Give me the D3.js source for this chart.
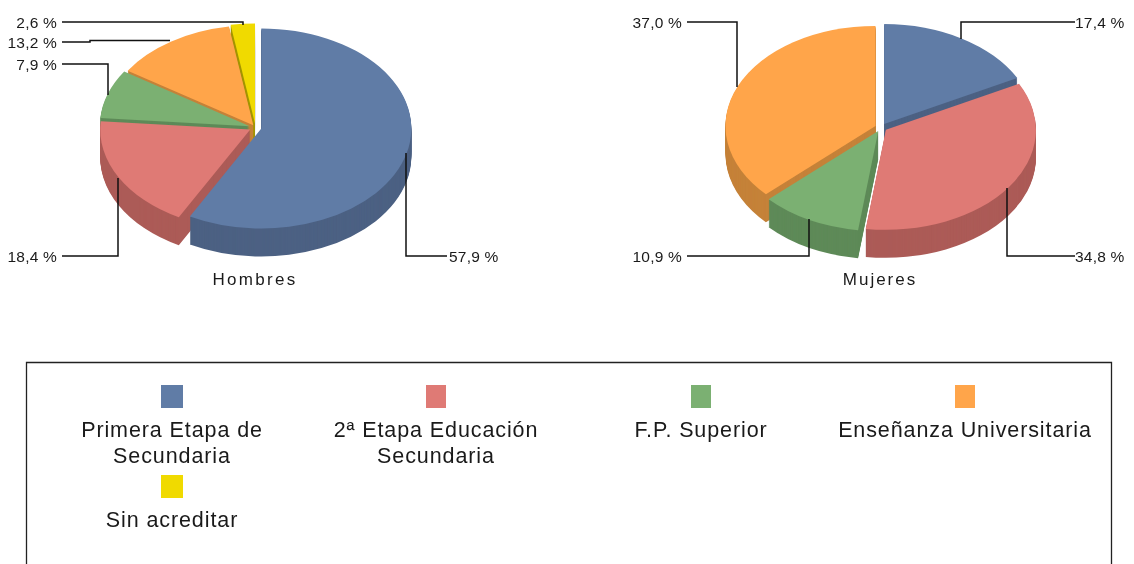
<!DOCTYPE html>
<html><head><meta charset="utf-8">
<style>html,body{margin:0;padding:0;background:#fff;overflow:hidden}svg{display:block;filter:blur(0.45px)}text{font-family:"Liberation Sans",Arial,sans-serif;fill:#1a1a1a}</style>
<script src="https://cdnjs.cloudflare.com/ajax/libs/d3/7.9.0/d3.min.js"></script>
</head><body><svg id="c" width="1134" height="564"></svg>
<script>
const categories = ["Primera Etapa de Secundaria","2ª Etapa Educación Secundaria","F.P. Superior","Enseñanza Universitaria","Sin acreditar"];
const hombresValues = [57.9,18.4,7.9,13.2,2.6];
const mujeresValues = [17.4,34.8,10.9,37.0,0];
const hombresLabels = ["57,9 %","18,4 %","7,9 %","13,2 %","2,6 %"];
const mujeresLabels = ["17,4 %","34,8 %","10,9 %","37,0 %",""];
const topColors = ["#607ca6","#df7a75","#7bb072","#ffa54a","#f0da00"];
const wallColors = ["#4c6183","#ac5b57","#5e8a58","#c58239","#a39400"];

const svg = d3.select("#c");
const RX = 150, RY = 100, DEPTH = 28, EXPLODE = 6;

function drawPie(values, cx, cy, order, explode){
  const pie = d3.pie().sort(null).value(d=>d)(values);
  const arc = d3.arc().innerRadius(0).outerRadius(RX);
  const g = svg.append("g");
  order.forEach(i=>{
    const s = pie[i];
    if(!(s.endAngle - s.startAngle > 0)) return;
    const mid = (s.startAngle+s.endAngle)/2;
    const x = cx + explode[i]*Math.sin(mid);
    const y = cy - explode[i]*(RY/RX)*Math.cos(mid);
    const d = arc(s);
    d3.range(DEPTH,0,-1).forEach(k=>{
      g.append("path").attr("d",d).attr("fill",wallColors[i])
       .attr("transform",`translate(${x},${y+k}) scale(1,${RY/RX})`);
    });
    g.append("path").attr("d",d).attr("fill",topColors[i])
     .attr("transform",`translate(${x},${y}) scale(1,${RY/RX})`);
  });
}
drawPie(hombresValues, 255.5, 127.5, [4,3,2,1,0], [EXPLODE,EXPLODE,EXPLODE,4,EXPLODE]);
drawPie(mujeresValues, 881, 127.5, [3,0,2,1], [EXPLODE,EXPLODE,EXPLODE,EXPLODE,EXPLODE]);

const line = d3.line();
function leader(points, label, tx, anchor){
  svg.append("path").attr("d",line(points)).attr("fill","none").attr("stroke","#111").attr("stroke-width",1.5);
  svg.append("text").attr("x",tx).attr("y",points[0][1]+5.5).attr("text-anchor",anchor)
     .attr("font-size",15.5).attr("letter-spacing",0.2).text(label);
}
leader([[62,22],[243,22],[243,25]], hombresLabels[4], 57, "end");
leader([[62,42],[90,42],[90,40.5],[170,40.5]], hombresLabels[3], 57, "end");
leader([[62,64],[108,64],[108,95]], hombresLabels[2], 57, "end");
leader([[62,256],[118,256],[118,178]], hombresLabels[1], 57, "end");
leader([[447,256],[406,256],[406,153]], hombresLabels[0], 449, "start");
leader([[687,22],[737,22],[737,87]], mujeresLabels[3], 682, "end");
leader([[1075,22],[961,22],[961,39]], mujeresLabels[0], 1075, "start");
leader([[687,256],[809,256],[809,219]], mujeresLabels[2], 682, "end");
leader([[1075,256],[1007,256],[1007,188]], mujeresLabels[1], 1075, "start");

svg.append("text").attr("x",255).attr("y",285).attr("text-anchor","middle").attr("font-size",17).attr("letter-spacing",2.3).text("Hombres");
svg.append("text").attr("x",880).attr("y",285).attr("text-anchor","middle").attr("font-size",17).attr("letter-spacing",2).text("Mujeres");

// legend
svg.append("path").attr("d",line([[26.5,564],[26.5,362.5],[1111.5,362.5],[1111.5,564]]))
   .attr("fill","none").attr("stroke","#222").attr("stroke-width",1.3);
const legendLines = [["Primera Etapa de","Secundaria"],["2ª Etapa Educación","Secundaria"],["F.P. Superior"],["Enseñanza Universitaria"],["Sin acreditar"]];
const legendX = [172,436,701,965,172];
const legendY = [385,385,385,385,475];
categories.forEach((c,i)=>{
  svg.append("rect").attr("x",legendX[i]-(i===0||i===4?11:10)).attr("y",legendY[i])
     .attr("width",i===0||i===4?22:20).attr("height",23).attr("fill",topColors[i]);
  legendLines[i].forEach((t,j)=>{
    svg.append("text").attr("x",legendX[i]).attr("y",legendY[i]+52+j*26).attr("text-anchor","middle")
       .attr("font-size",21.5).attr("letter-spacing",0.9).text(t);
  });
});
</script></body></html>
